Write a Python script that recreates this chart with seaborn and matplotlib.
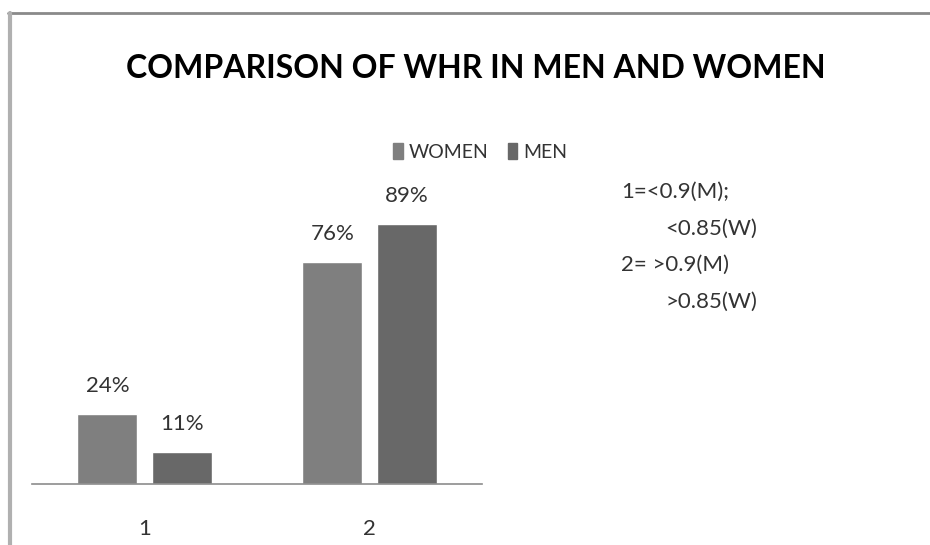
import pandas as pd
import matplotlib.pyplot as plt
import seaborn as sns
from matplotlib.patches import Patch

# values
groups = ['1', '2']
women = [24, 76]
men = [11, 89]
series_names = ['WOMEN', 'MEN']
note_lines = ['1=<0.9(M);', '<0.85(W)', '2= >0.9(M)', '>0.85(W)']

df = pd.DataFrame({
    'group': groups * 2,
    'sex': [series_names[0]] * len(groups) + [series_names[1]] * len(groups),
    'pct': women + men,
})

sns.set_theme(style='white')
plt.rcParams['font.family'] = ['Lato', 'DejaVu Sans']

W, H = 930, 545
fig = plt.figure(figsize=(W / 100, H / 100), dpi=100)

# chart frame (top and left edge visible)
fig.add_artist(plt.Line2D([8 / W, 1], [1 - 13 / H, 1 - 13 / H], color='#8a8a8a', lw=2))
fig.add_artist(plt.Line2D([10 / W, 10 / W], [0, 1 - 13 / H], color='#b0b0b0', lw=3))

# axes placed in pixel terms: x 32..482, baseline at y=484
ax = fig.add_axes([32 / W, 1 - 484 / H, 450 / W, 324 / H])
palette = {'WOMEN': '#7f7f7f', 'MEN': '#686868'}
sns.barplot(data=df, x='group', y='pct', hue='sex', palette=palette,
            width=0.66, gap=0.19, ax=ax, legend=False, saturation=1)

ax.set_xlim(-0.5, 1.5)
ax.set_ylim(0, 324 / 2.92)
ax.set_xlabel('')
ax.set_ylabel('')
ax.set_yticks([])
ax.tick_params(axis='x', length=0, pad=25, labelsize=16, colors='#333333')
for s in ['top', 'right', 'left']:
    ax.spines[s].set_visible(False)
ax.spines['bottom'].set_color('#8c8c8c')
ax.spines['bottom'].set_linewidth(1.2)

for c in ax.containers:
    ax.bar_label(c, labels=[f'{v:.0f}%' for v in c.datavalues], padding=13,
                 fontsize=16, color='#333333')

fig.text(476 / W, 1 - 68 / H, 'COMPARISON OF WHR IN MEN AND WOMEN',
         ha='center', va='center', fontsize=23, fontweight='bold', color='black')

handles = [Patch(color=palette[n]) for n in series_names]
fig.legend(handles, series_names, loc='center', bbox_to_anchor=(480 / W, 1 - 152 / H),
           ncol=2, frameon=False, fontsize=14, handlelength=0.5, handleheight=0.9,
           handletextpad=0.3, columnspacing=1.0, labelcolor='#333333',
           borderpad=0.2)

note_x = [621, 665, 621, 665]
note_y = [192, 229, 265, 302]
for line, x, y in zip(note_lines, note_x, note_y):
    fig.text(x / W, 1 - y / H, line, ha='left', va='center',
             fontsize=16, color='#333333')

fig.savefig('out.png', dpi=100, facecolor='white')
